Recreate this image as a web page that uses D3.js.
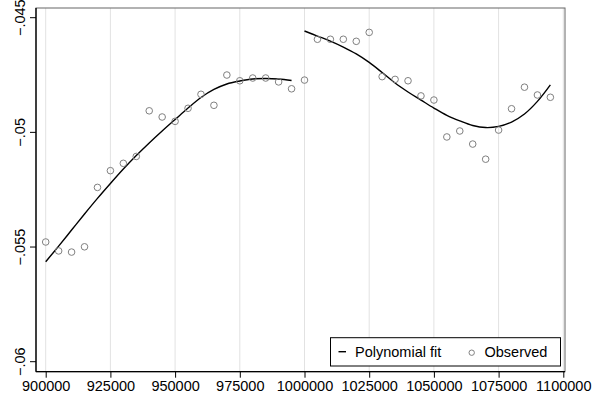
<!DOCTYPE html>
<html>
<head>
<meta charset="utf-8">
<script src="https://cdn.jsdelivr.net/npm/d3@7"></script>
<style>
  body { margin: 0; background: #fff; }
  svg { display: block; font-family: "Liberation Sans", Arial, sans-serif; }
</style>
</head>
<body>
<div id="chart-container" style="width:600px;height:397px"></div>
<script>
// observed points, every 5000 from 900000
const obsX = d3.range(900000, 1100000, 5000);
const obsY = [
  -0.05478, -0.05517, -0.05522, -0.05499, -0.05240, -0.05167, -0.05135, -0.05105,
  -0.04906, -0.04933, -0.04952, -0.04895, -0.04834, -0.04882, -0.04750, -0.04775,
  -0.04763, -0.04763, -0.04780, -0.04810, -0.04772, -0.04594, -0.04594, -0.04594,
  -0.04603, -0.04564, -0.04757, -0.04769, -0.04775, -0.04841, -0.04859, -0.05020,
  -0.04994, -0.05051, -0.05117, -0.04990, -0.04897, -0.04803, -0.04837, -0.04847
];

// fitted curve, read at the same steps, one piece each side of 1000000
const fitLeftX = d3.range(900000, 1000000, 5000);
const fitLeftY = [
  -0.05564, -0.05496, -0.05426, -0.05356, -0.05288, -0.05223, -0.05160, -0.05101,
  -0.05046, -0.04994, -0.04944, -0.04894, -0.04848, -0.04813, -0.04789, -0.04776,
  -0.04767, -0.04765, -0.04767, -0.04774
];
const fitRightX = d3.range(1000000, 1100000, 5000);
const fitRightY = [
  -0.04558, -0.04580, -0.04602, -0.04628, -0.04658, -0.04695, -0.04739, -0.04785,
  -0.04824, -0.04859, -0.04894, -0.04926, -0.04950, -0.04970, -0.04979, -0.04974,
  -0.04955, -0.04920, -0.04865, -0.04793
];

const xTicks = [900000, 925000, 950000, 975000, 1000000, 1025000, 1050000, 1075000, 1100000];
const yTicks = [-0.045, -0.05, -0.055, -0.06];

const width = 600;
const height = 397;
const box = { left: 36, right: 565, top: 8, bottom: 371.7 };

const svg = d3.select("#chart-container")
  .append("svg")
  .attr("width", width)
  .attr("height", height);

const x = d3.scaleLinear()
  .domain([900000, 1100000])
  .range([45.7, 563.3]);

const y = d3.scaleLinear()
  .domain([-0.06, -0.045])
  .range([361.7, 17.7]);

// grid
svg.append("g")
  .selectAll("line")
  .data(xTicks)
  .enter()
  .append("line")
  .attr("x1", (d) => x(d))
  .attr("x2", (d) => x(d))
  .attr("y1", box.top)
  .attr("y2", box.bottom)
  .attr("stroke", "#e2e2e2")
  .attr("stroke-width", 1);

// frame
svg.append("rect")
  .attr("x", box.left)
  .attr("y", box.top)
  .attr("width", box.right - box.left)
  .attr("height", box.bottom - box.top)
  .attr("fill", "none")
  .attr("stroke", "#666")
  .attr("stroke-width", 1);

// fit lines
const line = d3.line()
  .x((d) => x(d[0]))
  .y((d) => y(d[1]))
  .curve(d3.curveCatmullRom);

[[fitLeftX, fitLeftY], [fitRightX, fitRightY]].forEach(([xs, ys]) => {
  svg.append("path")
    .datum(xs.map((v, i) => [v, ys[i]]))
    .attr("fill", "none")
    .attr("stroke", "#000")
    .attr("stroke-width", 1.4)
    .attr("d", line);
});

// observed
svg.append("g")
  .selectAll("circle")
  .data(obsX.map((v, i) => [v, obsY[i]]))
  .enter()
  .append("circle")
  .attr("cx", (d) => x(d[0]))
  .attr("cy", (d) => y(d[1]))
  .attr("r", 3.3)
  .attr("fill", "none")
  .attr("stroke", "#808080")
  .attr("stroke-width", 1);

// axes
const xAxis = d3.axisBottom(x).tickValues(xTicks).tickSize(6).tickPadding(3)
  .tickFormat(d3.format("d"));
const gX = svg.append("g")
  .attr("transform", `translate(0, ${box.bottom})`)
  .call(xAxis);
gX.select(".domain").remove();
gX.selectAll("text")
  .attr("font-family", "Liberation Sans, Arial, sans-serif")
  .style("font-size", "14.5px")
  .attr("fill", "#000");

const fmtY = (d) => "\u2212" + d3.format(".3~f")(Math.abs(d)).replace(/^0/, "");
const yAxis = d3.axisLeft(y).tickValues(yTicks).tickSize(6).tickFormat(fmtY);
const gY = svg.append("g")
  .attr("transform", `translate(${box.left}, 0)`)
  .call(yAxis);
gY.select(".domain").remove();
gY.selectAll("text")
  .attr("font-family", "Liberation Sans, Arial, sans-serif")
  .style("font-size", "14.5px")
  .attr("fill", "#000")
  .attr("text-anchor", "middle")
  .attr("x", 0)
  .attr("dy", 0)
  .attr("transform", (d) => `translate(-11, ${y(d)}) rotate(-90)`)
  .attr("y", 0);
gY.selectAll(".tick").attr("transform", null);
gY.selectAll(".tick line").attr("transform", (d) => `translate(0, ${y(d)})`);

svg.append("line")
  .attr("x1", box.left).attr("x2", box.left)
  .attr("y1", box.top).attr("y2", box.bottom)
  .attr("stroke", "#000").attr("stroke-width", 1.3);
svg.append("line")
  .attr("x1", box.left).attr("x2", box.right)
  .attr("y1", box.bottom).attr("y2", box.bottom)
  .attr("stroke", "#000").attr("stroke-width", 1.3);

// legend
const lg = svg.append("g").attr("transform", "translate(330.5, 337.7)");
lg.append("rect")
  .attr("width", 230)
  .attr("height", 28.3)
  .attr("fill", "#fff")
  .attr("stroke", "#000")
  .attr("stroke-width", 1);
lg.append("line")
  .attr("x1", 8).attr("x2", 15.5)
  .attr("y1", 14).attr("y2", 14)
  .attr("stroke", "#000").attr("stroke-width", 1.4);
lg.append("text")
  .attr("x", 24.5).attr("y", 19.3)
  .style("font-size", "14.5px")
  .text("Polynomial fit");
lg.append("circle")
  .attr("cx", 141.2).attr("cy", 15)
  .attr("r", 2.7)
  .attr("fill", "none")
  .attr("stroke", "#808080");
lg.append("text")
  .attr("x", 154).attr("y", 19.3)
  .style("font-size", "14.5px")
  .text("Observed");
</script>
</body>
</html>
